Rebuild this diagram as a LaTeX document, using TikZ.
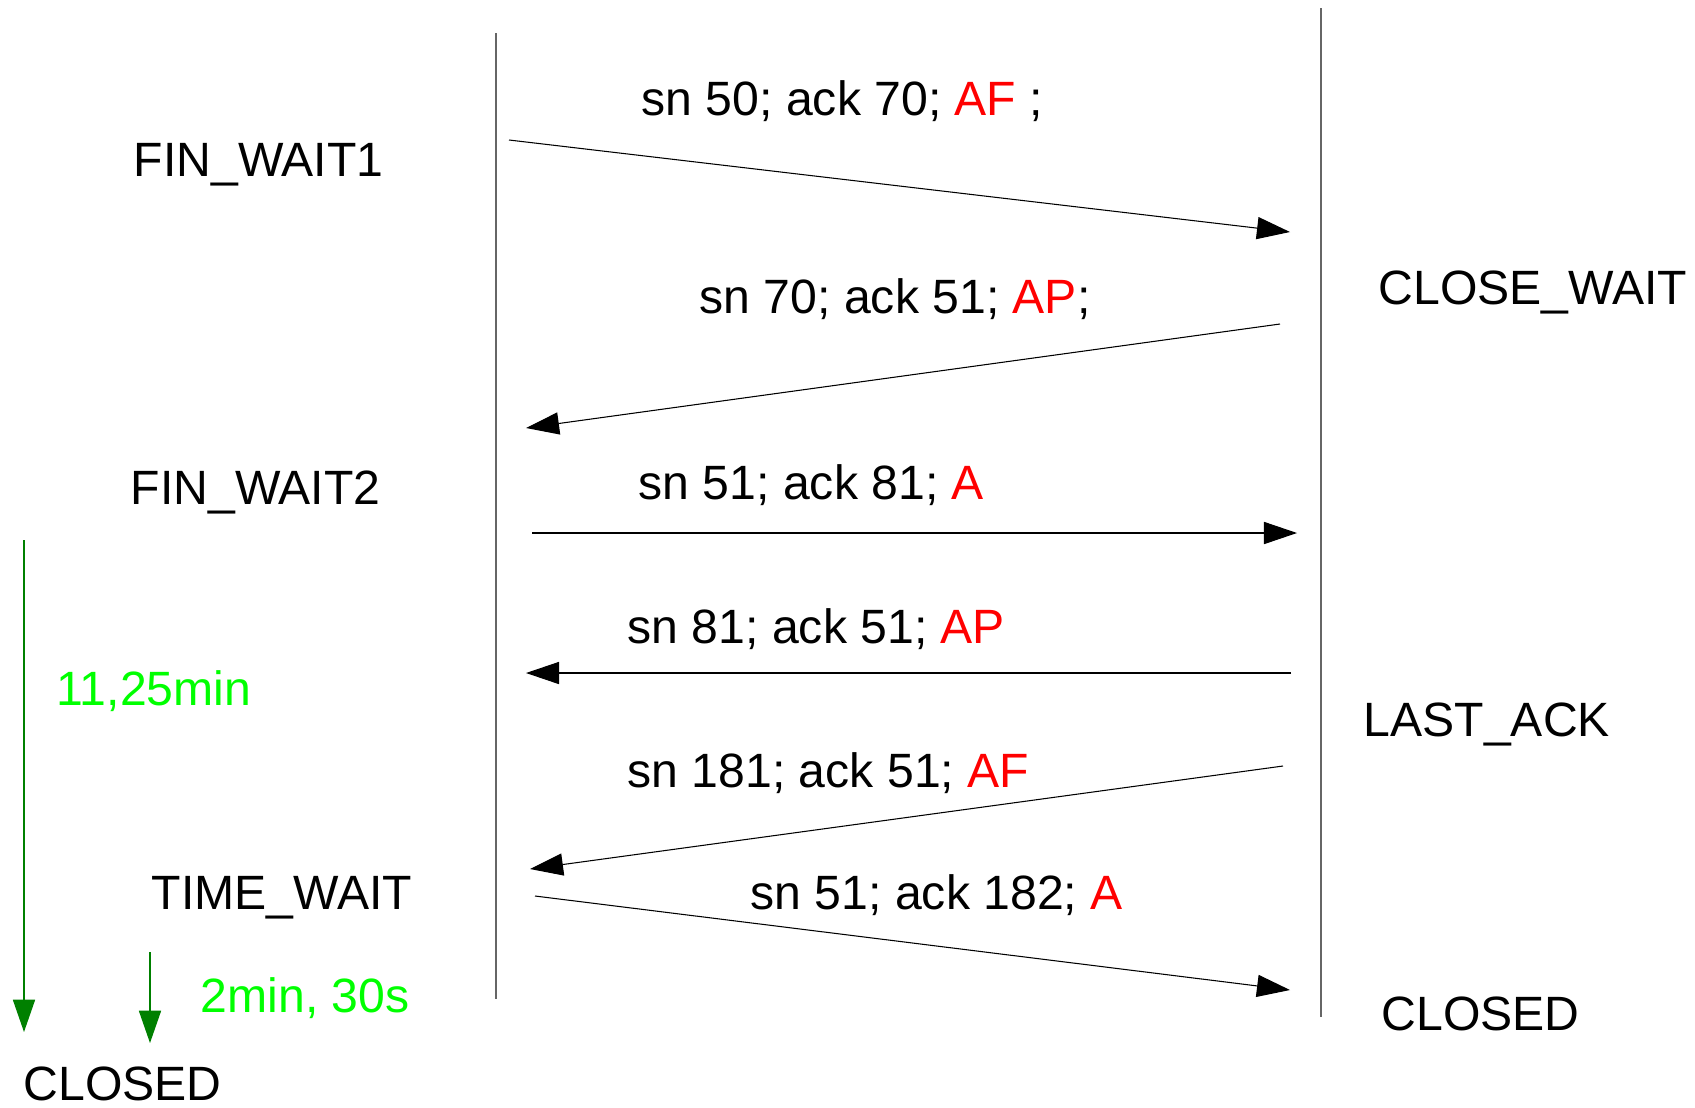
\documentclass[tikz,border=0pt]{standalone}
\usepackage{fontspec}
\setmainfont{Liberation Sans}
\usepackage{tikz}
\usetikzlibrary{arrows.meta}

\definecolor{timegreen}{RGB}{0,128,0}
\definecolor{lightgreen}{RGB}{0,255,0}

\begin{document}
\begin{tikzpicture}[scale=1,
        lifeline/.style={draw, black!60, line width=0.45pt},
        msg/.style={draw, line width=0.3pt, -{Triangle[length=9.4pt,width=6.3pt]}},
        timer/.style={draw, timegreen, line width=0.35pt, -{Triangle[length=9.2pt,width=6.3pt]}},
        state/.style={anchor=base west, inner sep=0pt, font=\fontsize{13.7}{16}\selectfont},
        label/.style={anchor=base west, inner sep=0pt, font=\fontsize{13.7}{16}\selectfont}]

        \useasboundingbox (0,0) rectangle (16.95,11.07);

        \coordinate (lefttop) at (4.96,10.74);
        \coordinate (leftbot) at (4.96,1.08);
        \coordinate (righttop) at (13.21,10.99);
        \coordinate (rightbot) at (13.21,0.90);

        \coordinate (m1s) at (5.09,9.67);
        \coordinate (m1e) at (12.90,8.75);
        \coordinate (m2s) at (12.80,7.83);
        \coordinate (m2e) at (5.26,6.79);
        \coordinate (m3s) at (5.32,5.74);
        \coordinate (m3e) at (12.97,5.74);
        \coordinate (m4s) at (12.91,4.34);
        \coordinate (m4e) at (5.26,4.34);
        \coordinate (m5s) at (12.83,3.41);
        \coordinate (m5e) at (5.30,2.38);
        \coordinate (m6s) at (5.35,2.11);
        \coordinate (m6e) at (12.90,1.17);

        \coordinate (t1s) at (0.24,5.67);
        \coordinate (t1e) at (0.24,0.75);
        \coordinate (t2s) at (1.50,1.55);
        \coordinate (t2e) at (1.50,0.64);

        \path[lifeline] (lefttop) -- (leftbot);
        \path[lifeline] (righttop) -- (rightbot);

        \path[msg] (m1s) -- (m1e);
        \path[msg] (m2s) -- (m2e);
        \path[msg] (m3s) -- (m3e);
        \path[msg] (m4s) -- (m4e);
        \path[msg] (m5s) -- (m5e);
        \path[msg] (m6s) -- (m6e);

        \path[timer] (t1s) -- (t1e);
        \path[timer] (t2s) -- (t2e);

        \node[label] (l1) at (6.41,9.92) {sn 50; ack 70; \textcolor{red}{AF} ;};
        \node[label] (l2) at (6.99,7.94) {sn 70; ack 51; \textcolor{red}{AP};};
        \node[label] (l3) at (6.38,6.08) {sn 51; ack 81; \textcolor{red}{A}};
        \node[label] (l4) at (6.27,4.64) {sn 81; ack 51; \textcolor{red}{AP}};
        \node[label] (l5) at (6.27,3.20) {sn 181; ack 51; \textcolor{red}{AF}};
        \node[label] (l6) at (7.50,1.98) {sn 51; ack 182; \textcolor{red}{A}};

        \node[state] (finwait1) at (1.33,9.31) {FIN\_WAIT1};
        \node[state] (finwait2) at (1.30,6.03) {FIN\_WAIT2};
        \node[state] (timewait) at (1.51,1.98) {TIME\_WAIT};
        \node[state] (closedl) at (0.23,0.07) {CLOSED};
        \node[state] (closewait) at (13.78,8.03) {CLOSE\_WAIT};
        \node[state] (lastack) at (13.63,3.71) {LAST\_ACK};
        \node[state] (closedr) at (13.81,0.77) {CLOSED};

        \node[state, lightgreen] (t1) at (0.56,4.02) {11,25min};
        \node[state, lightgreen] (t2) at (2.00,0.95) {2min, 30s};

    \end{tikzpicture}
\end{document}
